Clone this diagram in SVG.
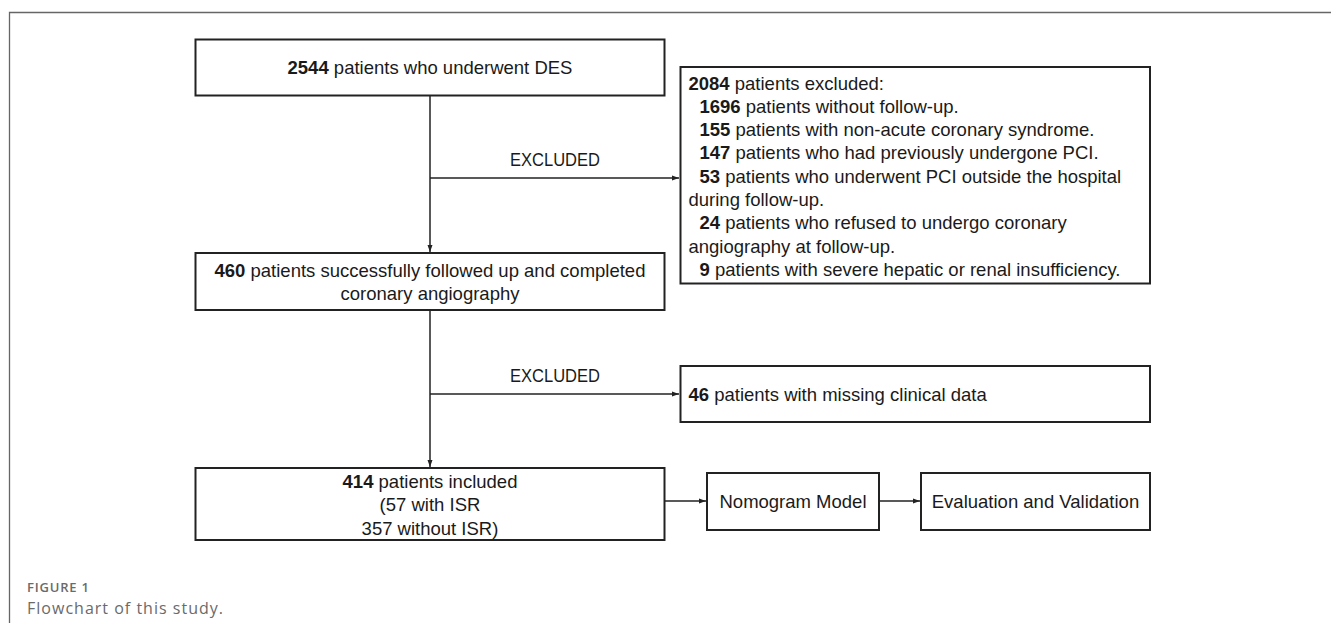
<svg xmlns="http://www.w3.org/2000/svg" width="1331" height="623" viewBox="0 0 1331 623">
<style>
  .box { fill: #fff; stroke: #222; stroke-width: 2; }
  .t { font-family: "Liberation Sans", Arial, sans-serif; font-size: 18.5px; fill: #1a1a1a; }
  .b { font-weight: bold; }
  .c { text-anchor: middle; }
  .con { stroke: #222; stroke-width: 1.5; fill: none; }
  .cap1 { font-family: "Open Sans", "Liberation Sans", sans-serif; font-size: 13px; font-weight: 600; fill: #6a6a6a; }
  .cap2 { font-family: "Open Sans", "Liberation Sans", sans-serif; font-size: 16px; fill: #6a6a6a; }
</style>
<defs>
  <marker id="ah" markerUnits="userSpaceOnUse" markerWidth="8" markerHeight="6" refX="7" refY="3" orient="auto">
    <path d="M0,0.5 L7,3 L0,5.5 Z" fill="#222"/>
  </marker>
</defs>
<rect width="1331" height="623" fill="#fff"/>
<path d="M9.5,623 V12.5 H1331" fill="none" stroke="#666" stroke-width="1.3"/>

<g id="connectors">
  <line class="con" x1="430" y1="96" x2="430" y2="252" marker-end="url(#ah)"/>
  <line class="con" x1="430" y1="178" x2="679" y2="178" marker-end="url(#ah)"/>
  <line class="con" x1="430" y1="310" x2="430" y2="467" marker-end="url(#ah)"/>
  <line class="con" x1="430" y1="394" x2="679" y2="394" marker-end="url(#ah)"/>
  <line class="con" x1="664" y1="501" x2="706" y2="501" marker-end="url(#ah)"/>
  <line class="con" x1="879" y1="501" x2="920" y2="501" marker-end="url(#ah)"/>
  <text class="t c" x="555" y="166" textLength="90" lengthAdjust="spacingAndGlyphs">EXCLUDED</text>
  <text class="t c" x="555" y="382" textLength="90" lengthAdjust="spacingAndGlyphs">EXCLUDED</text>
</g>

<g id="n_start">
  <rect class="box" x="195.5" y="39.5" width="469" height="56"/>
  <text class="t c" x="430" y="74"><tspan class="b">2544</tspan> patients who underwent DES</text>
</g>

<g id="n_excluded1">
  <rect class="box" x="680.5" y="67" width="469.5" height="216.5"/>
  <text class="t" x="688.5" y="89.5"><tspan class="b">2084</tspan> patients excluded:</text>
  <text class="t" x="699.5" y="112.8"><tspan class="b">1696</tspan> patients without follow-up.</text>
  <text class="t" x="699.5" y="136.1"><tspan class="b">155</tspan> patients with non-acute coronary syndrome.</text>
  <text class="t" x="699.5" y="159.4"><tspan class="b">147</tspan> patients who had previously undergone PCI.</text>
  <text class="t" x="699.5" y="182.7"><tspan class="b">53</tspan> patients who underwent PCI outside the hospital</text>
  <text class="t" x="688.5" y="206">during follow-up.</text>
  <text class="t" x="699.5" y="229.3"><tspan class="b">24</tspan> patients who refused to undergo coronary</text>
  <text class="t" x="688.5" y="252.6">angiography at follow-up.</text>
  <text class="t" x="699.5" y="275.9"><tspan class="b">9</tspan> patients with severe hepatic or renal insufficiency.</text>
</g>

<g id="n_followed">
  <rect class="box" x="195.5" y="253" width="469" height="57"/>
  <text class="t c" x="430" y="277"><tspan class="b">460</tspan> patients successfully followed up and completed</text>
  <text class="t c" x="430" y="300">coronary angiography</text>
</g>

<g id="n_excluded2">
  <rect class="box" x="680.5" y="366" width="469.5" height="56"/>
  <text class="t" x="688.5" y="400.5"><tspan class="b">46</tspan> patients with missing clinical data</text>
</g>

<g id="n_included">
  <rect class="box" x="195.5" y="468" width="469" height="72"/>
  <text class="t c" x="430" y="488"><tspan class="b">414</tspan> patients included</text>
  <text class="t c" x="430" y="511">(57 with ISR</text>
  <text class="t c" x="430" y="534.5">357 without ISR)</text>
</g>

<g id="n_nomogram">
  <rect class="box" x="707" y="473" width="172" height="57"/>
  <text class="t c" x="793" y="508">Nomogram Model</text>
</g>

<g id="n_eval">
  <rect class="box" x="921" y="473" width="229" height="57"/>
  <text class="t c" x="1035.5" y="508">Evaluation and Validation</text>
</g>

<g id="caption">
  <text class="cap1" x="27" y="592" textLength="62">FIGURE 1</text>
  <text class="cap2" x="27" y="613.5" textLength="196">Flowchart of this study.</text>
</g>
</svg>
